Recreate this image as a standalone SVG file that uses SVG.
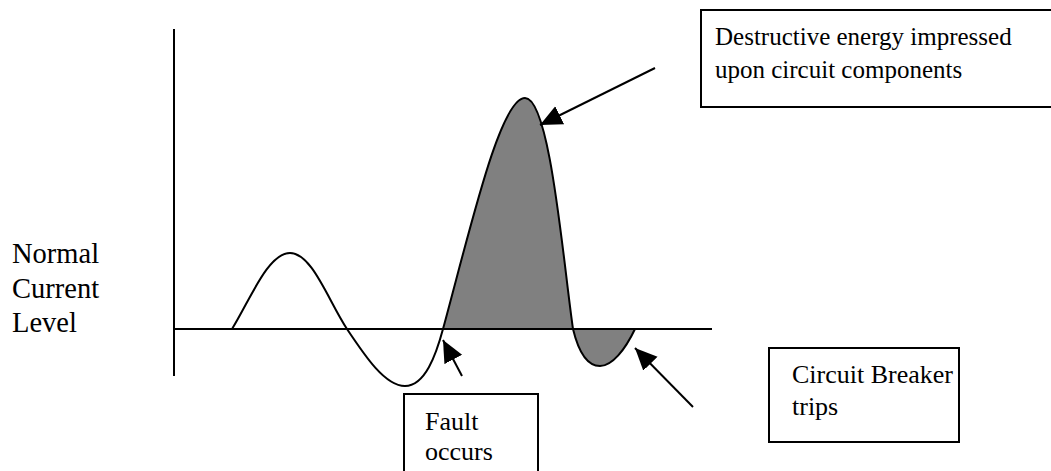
<svg xmlns="http://www.w3.org/2000/svg" width="1051" height="471" viewBox="0 0 1051 471">
  <style>
    .ax { stroke: #000; stroke-width: 2; fill: none; }
    .curve { stroke: #000; stroke-width: 2; fill: none; }
    .fill { fill: #808080; stroke: none; }
    .box { fill: #fff; stroke: #000; stroke-width: 2; }
    .lbl { font-family: "Liberation Serif", "Times New Roman", serif; font-size: 26px; fill: #000; }
    .big { font-size: 28.5px; }
    .top { font-size: 25px; }
    .conn { stroke: #000; stroke-width: 2; fill: none; marker-end: url(#ah); }
  </style>
  <defs>
    <marker id="ah" markerUnits="userSpaceOnUse" markerWidth="24" markerHeight="22" refX="22" refY="10" orient="auto">
      <path d="M0,0 L22,10 L0,20 Z" fill="#000"/>
    </marker>
  </defs>
  <rect width="1051" height="471" fill="#fff"/>

  <g id="plot">
    <path class="fill" d="M443,329 C470,230 500,98 525,98 C550,98 563,260 573,329 C580,358 590,366 600,366 C612,366 625,350 635,329 Z"/>
    <line class="ax" x1="174" y1="29" x2="174" y2="376"/>
    <line class="ax" x1="174" y1="329" x2="712" y2="329"/>
    <path class="curve" d="M232,329 C250,300 268,253 290,253 C312,253 328,300 347,329 C365,356 385,386 405,386 C425,386 436,355 443,329 C470,230 500,98 525,98 C550,98 563,260 573,329 C580,358 590,366 600,366 C612,366 625,350 635,329"/>
  </g>

  <g id="axis-label">
    <text class="lbl big" x="12" y="263">Normal</text>
    <text class="lbl big" x="12" y="298">Current</text>
    <text class="lbl big" x="12" y="332">Level</text>
  </g>

  <g id="connectors">
    <line class="conn" x1="655" y1="68" x2="540" y2="125"/>
    <line class="conn" x1="462" y1="376" x2="443" y2="340"/>
    <line class="conn" x1="693" y1="407" x2="635" y2="348"/>
  </g>

  <g id="destructive-energy">
    <rect class="box" x="701" y="10" width="360" height="97"/>
    <text class="lbl top" x="715" y="45">Destructive energy impressed</text>
    <text class="lbl top" x="715" y="78">upon circuit components</text>
  </g>

  <g id="fault-occurs">
    <rect class="box" x="404" y="394" width="134" height="90"/>
    <text class="lbl" x="425" y="430">Fault</text>
    <text class="lbl" x="425" y="460">occurs</text>
  </g>

  <g id="breaker-trips">
    <rect class="box" x="769" y="348" width="190" height="94"/>
    <text class="lbl" x="792" y="383">Circuit Breaker</text>
    <text class="lbl" x="792" y="415">trips</text>
  </g>
</svg>
